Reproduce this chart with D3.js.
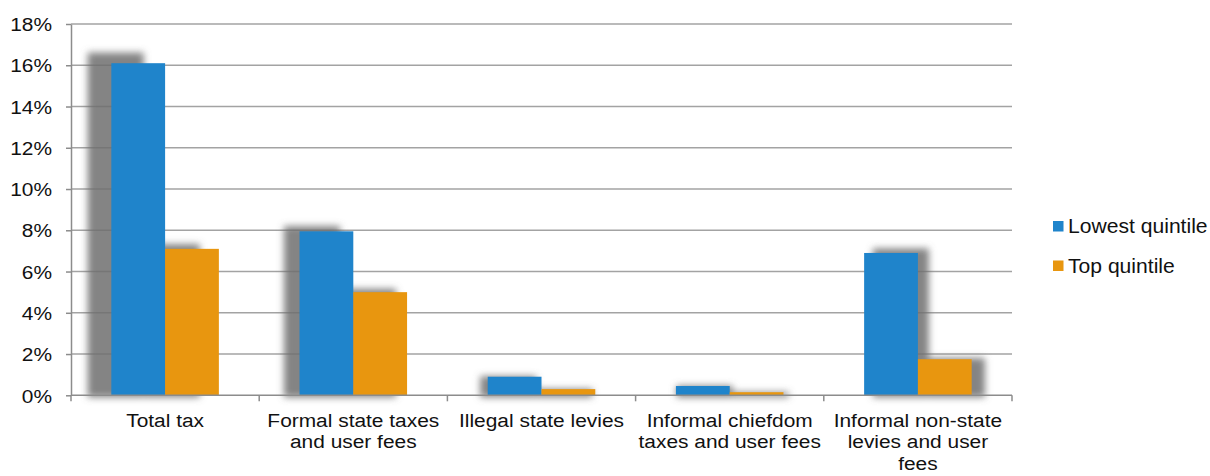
<!DOCTYPE html>
<html><head><meta charset="utf-8">
<script src="https://cdn.jsdelivr.net/npm/d3@7"></script>
<style>
html,body{margin:0;padding:0;background:#fff;}
svg{display:block;font-family:"Liberation Sans",Arial,sans-serif;}
</style></head>
<body>
<svg id="c" width="1210" height="476"></svg>
<script>
const categories = ["Total tax","Formal state taxes and user fees","Illegal state levies","Informal chiefdom taxes and user fees","Informal non-state levies and user fees"];
const categoryLines = [["Total tax"],["Formal state taxes","and user fees"],["Illegal state levies"],["Informal chiefdom","taxes and user fees"],["Informal non-state","levies and user","fees"]];
const seriesNames = ["Lowest quintile","Top quintile"];
const lowestQuintile = [16.1, 7.95, 0.9, 0.45, 6.9];
const topQuintile = [7.1, 5.0, 0.3, 0.15, 1.75];
const yTicks = [0,2,4,6,8,10,12,14,16,18];
const colors = ["#1f84cb","#e8960f"];

const svg = d3.select("#c");
const L = 71, R = 1012, T = 24, B = 395.3;
const x = d3.scaleBand().domain(categories).range([L,R]).paddingInner(0).paddingOuter(0);
const sub = d3.scaleBand().domain(seriesNames).range([0,x.bandwidth()]).paddingInner(0).paddingOuter(0.75);
const y = d3.scaleLinear().domain([0,18]).range([B,T]);

// defs
const defs = svg.append("defs");
const f = defs.append("filter").attr("id","sh").attr("x","-50%").attr("y","-50%").attr("width","200%").attr("height","200%");
f.append("feGaussianBlur").attr("stdDeviation",3.8);

// gridlines
svg.append("g").selectAll("line").data(yTicks.filter(d=>d>0)).join("line")
  .attr("x1",L).attr("x2",R).attr("y1",d=>y(d)).attr("y2",d=>y(d))
  .attr("stroke","#a3a3a3").attr("stroke-width",1.5);

// data rows
const rows = categories.map((c,i)=>({c, vals:[lowestQuintile[i], topQuintile[i]]}));
const bars = [];
rows.forEach(r=>r.vals.forEach((v,j)=>bars.push({c:r.c, s:seriesNames[j], v, j})));

// perspective shadows
const cx = 663, sx = 1.043, sy = 1.032;
svg.append("g").attr("filter","url(#sh)").selectAll("rect").data(bars).join("rect")
  .attr("x",d=>cx + sx*(x(d.c)+sub(d.s)-cx))
  .attr("width",sub.bandwidth()*sx)
  .attr("y",d=>B - sy*(B - y(d.v)))
  .attr("height",d=>sy*(B - y(d.v)) + 2)
  .attr("fill","#6e6e6e").attr("fill-opacity",0.85);

// bars
svg.append("g").selectAll("rect").data(bars).join("rect")
  .attr("x",d=>x(d.c)+sub(d.s))
  .attr("width",sub.bandwidth())
  .attr("y",d=>y(d.v))
  .attr("height",d=>B - y(d.v))
  .attr("fill",d=>colors[d.j]);

// y axis
const ya = svg.append("g").attr("transform",`translate(${L},0)`)
  .call(d3.axisLeft(y).tickValues(yTicks).tickFormat(d=>d+"%").tickSize(5).tickSizeOuter(0));
ya.select(".domain").attr("stroke","#8c8c8c").attr("stroke-width",1.5);
ya.selectAll(".tick line").attr("stroke","#8c8c8c").attr("stroke-width",1.5);
ya.selectAll(".tick text").attr("x",0).attr("dy",null).attr("dominant-baseline",null)
  .attr("font-size",19).attr("fill","#111").attr("text-anchor","end")
  .attr("transform","translate(-19,6.7) scale(1.1,1)");

// x axis
const xa = svg.append("g").attr("transform",`translate(0,${B})`);
xa.append("line").attr("x1",L).attr("x2",R).attr("y1",0).attr("y2",0).attr("stroke","#8c8c8c").attr("stroke-width",1.5);
const bounds = categories.map(c=>x(c)).concat([x(categories[categories.length-1])+x.bandwidth()]);
xa.selectAll("line.tk").data(bounds).join("line").attr("class","tk")
  .attr("x1",d=>d).attr("x2",d=>d).attr("y1",0).attr("y2",6)
  .attr("stroke","#8c8c8c").attr("stroke-width",1.5);
categories.forEach((c,i)=>{
  const g = xa.append("g").attr("transform",`translate(${x(c)+x.bandwidth()/2},31.4) scale(1.1,1)`);
  g.selectAll("text").data(categoryLines[i]).join("text")
    .attr("x",0).attr("y",(d,k)=>k*21.7)
    .attr("text-anchor","middle").attr("font-size",19).attr("fill","#111")
    .text(d=>d);
});

// legend
const lg = svg.append("g");
seriesNames.forEach((s,i)=>{
  const gy = 221 + i*39.5;
  lg.append("rect").attr("x",1053).attr("y",gy).attr("width",10.5).attr("height",10.5).attr("fill",colors[i]);
  lg.append("text").attr("transform",`translate(1068,${gy+12.3}) scale(1.03,1)`)
    .attr("font-size",20.5).attr("fill","#111").text(s);
});
</script>
</body></html>
